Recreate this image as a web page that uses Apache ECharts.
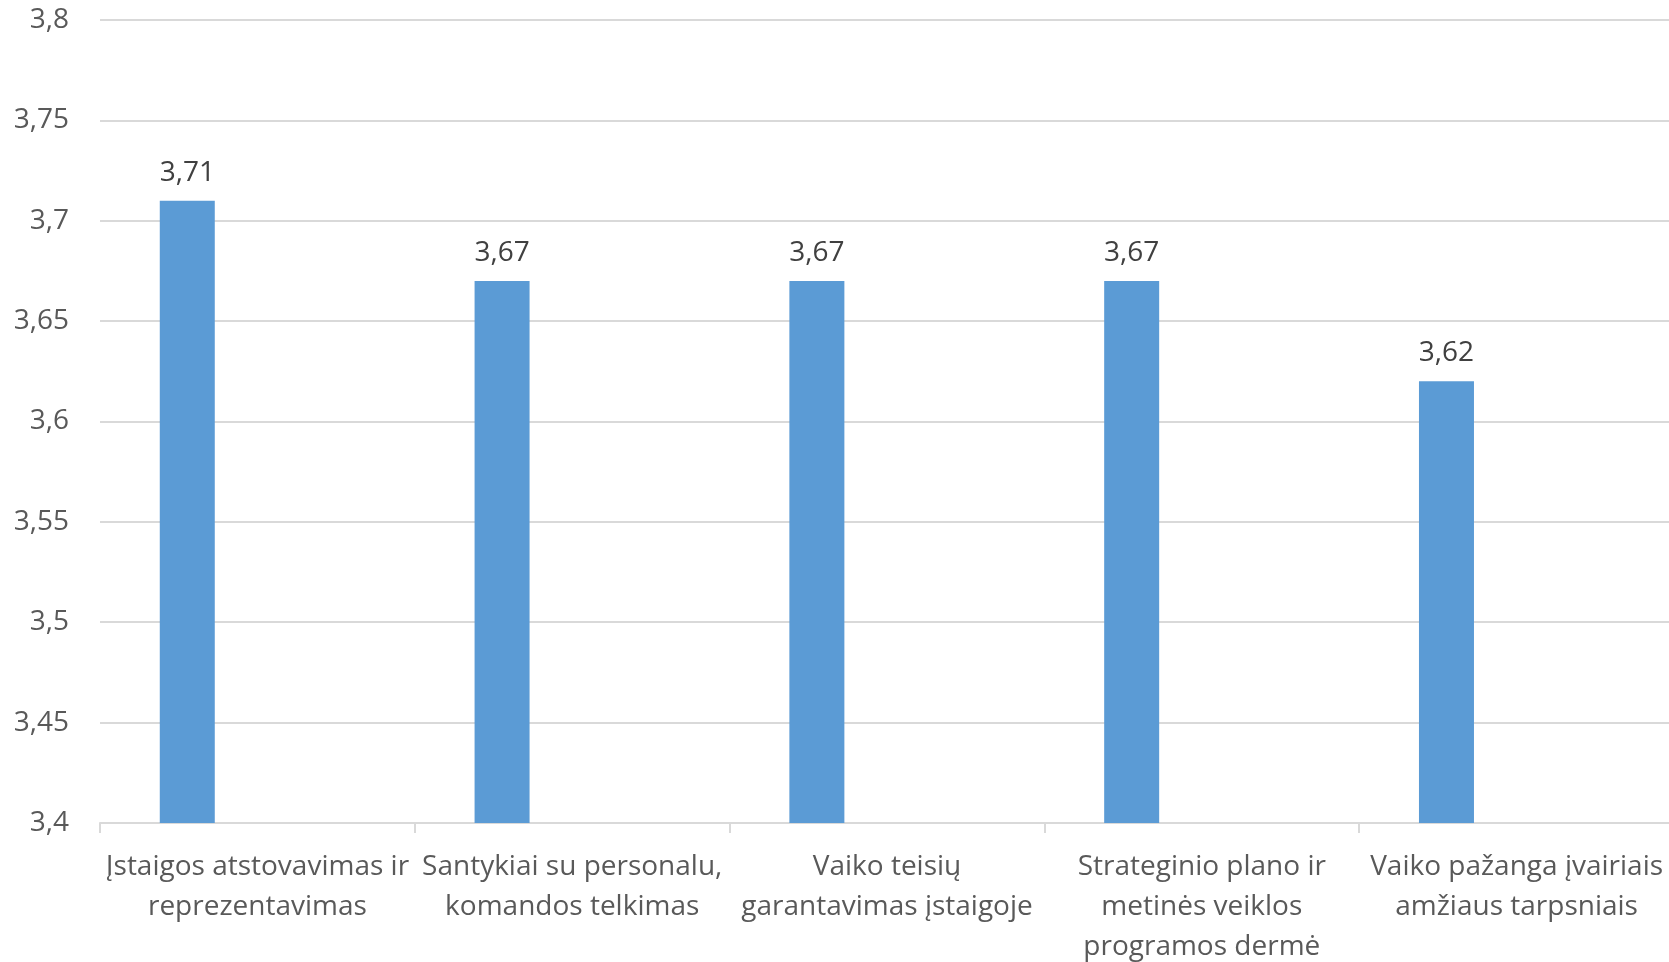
<!DOCTYPE html>
<html><head><meta charset="utf-8">
<script src="https://cdn.jsdelivr.net/npm/echarts@6/dist/echarts.min.js"></script>
<style>html,body{margin:0;padding:0;background:#fff}#c{width:1669px;height:962px}</style>
</head><body><div id="c"></div>
<script>
const categories = [
  "Įstaigos atstovavimas ir\nreprezentavimas",
  "Santykiai su personalu,\nkomandos telkimas",
  "Vaiko teisių\ngarantavimas įstaigoje",
  "Strateginio plano ir\nmetinės veiklos\nprogramos dermė",
  "Vaiko pažanga įvairiais\namžiaus tarpsniais"
];
const values = [3.71, 3.67, 3.67, 3.67, 3.62];
const emptySeries = [];
const yMin = 3.4, yMax = 3.8, yStep = 0.05;
const fmt = v => String(+(+v).toFixed(2)).replace('.', ',');
const font = '"Open Sans", "Noto Sans", sans-serif';
const chart = echarts.init(document.getElementById('c'), null, {renderer: 'canvas'});
chart.setOption({
  animation: false,
  grid: {left: 100, top: 20, height: 803, width: 1574, containLabel: false, outerBoundsMode: 'none'},
  xAxis: {
    type: 'category', data: categories,
    axisLine: {lineStyle: {color: '#d9d9d9', width: 2}},
    axisTick: {show: true, length: 10, lineStyle: {color: '#d9d9d9', width: 2}},
    axisLabel: {color: '#595959', fontSize: 28, fontFamily: font, lineHeight: 40, margin: 24, interval: 0}
  },
  yAxis: {
    type: 'value', min: yMin, max: yMax, interval: yStep,
    axisLine: {show: false}, axisTick: {show: false},
    splitLine: {lineStyle: {color: '#d9d9d9', width: 2}},
    axisLabel: {color: '#595959', fontSize: 28, fontFamily: font, margin: 31, formatter: fmt}
  },
  series: [
    {type: 'bar', data: values, barWidth: 55, barGap: '155%',
     itemStyle: {color: '#5b9bd5'},
     label: {show: true, position: 'top', distance: 14, color: '#404040', fontSize: 28, fontFamily: font, formatter: p => fmt(p.value)}},
    {type: 'bar', data: emptySeries, barWidth: 55}
  ]
});
</script></body></html>
